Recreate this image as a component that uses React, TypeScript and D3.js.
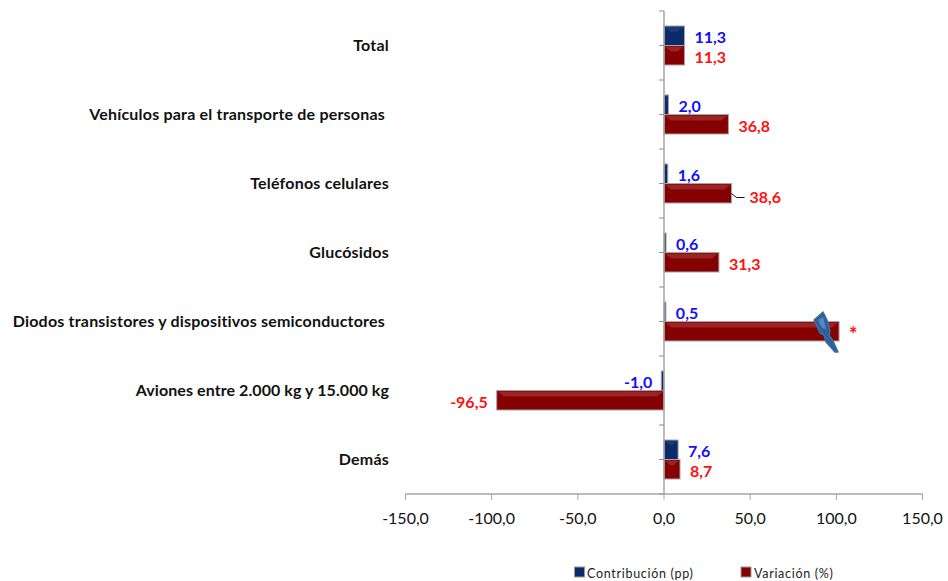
import React from "react";
import * as d3 from "d3";

const categories = [
  "Total",
  "Vehículos para el transporte de personas",
  "Teléfonos celulares",
  "Glucósidos",
  "Diodos transistores y dispositivos semiconductores",
  "Aviones entre 2.000 kg y 15.000 kg",
  "Demás",
];
const contribucion = [11.3, 2.0, 1.6, 0.6, 0.5, -1.0, 7.6];
const variacion = [11.3, 36.8, 38.6, 31.3, 101, -96.5, 8.7];
const variacionLabels = ["11,3", "36,8", "38,6", "31,3", "*", "-96,5", "8,7"];
const xTicks = [-150, -100, -50, 0, 50, 100, 150];
const seriesNames = ["Contribución (pp)", "Variación (%)"];

const W = 948;
const H = 581;
const FONT = "Lato, 'Open Sans', sans-serif";
const fmt = (v: number) => v.toFixed(1).replace(".", ",");

function Bar({ x, y, w, h, fill, light }: { x: number; y: number; w: number; h: number; fill: string; light: string }) {
  const inset = Math.min(6, w / 2);
  return (
    <g>
      <rect x={x} y={y} width={w} height={h} fill={fill} stroke="#a9a3a3" strokeWidth={1} />
      {w > 3 && (
        <path
          d={`M${x + 1},${y + 1}H${x + w - 1}L${x + w - 1 - inset},${y + 6}H${x + 1 + inset}Z`}
          fill={light}
          opacity={0.6}
        />
      )}
    </g>
  );
}

export default function App() {
  const x = d3.scaleLinear().domain([-150, 150]).range([405.5, 922.5]);
  const y = d3.scaleBand<string>().domain(categories).range([11, 494]);
  const bh = 19.5;
  const axisColor = "#a6a6a6";
  const x0 = x(0);

  const yTicks: number[] = [];
  categories.forEach((c) => {
    yTicks.push(y(c)!, y(c)! + y.bandwidth() / 2);
  });
  yTicks.push(494);

  return (
    <svg
      width={W}
      height={H}
      viewBox={`0 0 ${W} ${H}`}
      style={{ position: "absolute", left: 0, top: 0, display: "block", background: "#fff" }}
      fontFamily={FONT}
    >
      {categories.map((c, i) => {
        const mid = y(c)! + y.bandwidth() / 2;
        const trail = i === 1 || i === 4 ? 385 : 389;
        const vB = contribucion[i];
        const vR = variacion[i];
        const bx = Math.min(x(vB), x0);
        const rx = Math.min(x(vR), x0);
        const bw = Math.abs(x(vB) - x0) + 1;
        const rw = Math.abs(x(vR) - x0) + 1;
        const leader = i === 2;
        const bEnd = x(vB);
        const rEnd = x(vR);
        const isStar = variacionLabels[i] === "*";
        return (
          <g key={c}>
            <text x={trail} y={mid - 0.5} dy="0.35em" textAnchor="end" fontSize={16} letterSpacing={i === 5 ? 0.08 : 0.2} fontWeight={700} fill="#111">
              {c}
            </text>
            <Bar x={vB < 0 ? bx - 1 : bx} y={mid - bh} w={bw} h={bh} fill="#0a2a6b" light="#24457f" />
            <Bar x={vR < 0 ? rx - 1 : rx} y={mid} w={rw} h={bh} fill="#850000" light="#a83a3a" />
            <text
              x={vB < 0 ? bEnd - 10 : bEnd + 11}
              y={mid - 8}
              dy="0.35em"
              textAnchor={vB < 0 ? "end" : "start"}
              fontSize={16}
              fontWeight={700}
              fill="#0f0fff"
            >
              {fmt(vB)}
            </text>
            <text
              x={vR < 0 ? rEnd - 10 : rEnd + (leader ? 19 : 11)}
              y={mid + (leader ? 14 : isStar ? 13 : 12)}
              dy="0.35em"
              textAnchor={vR < 0 ? "end" : "start"}
              fontSize={isStar ? 20 : 16}
              fontWeight={700}
              fill="#ff1010"
            >
              {variacionLabels[i]}
            </text>
            {leader && (
              <path
                d={`M${rEnd + 1},${mid + 10}L${rEnd + 6},${mid + 14}H${rEnd + 14}`}
                fill="none"
                stroke="#111"
                strokeWidth={1}
              />
            )}
          </g>
        );
      })}

      {/* lightning mark on the truncated bar */}
      <path
        d="M814,320L823,312L827,320L830,331L829,335L833,341L838,352L835,352L826,342L824,335L820,333Z"
        fill="#2f6198"
        stroke="#3d6da3"
        strokeWidth={1.5}
        strokeLinejoin="round"
      />
      <path d="M818,320L823,317L826,329L822,328Z" fill="#5288c4" />

      {/* y axis */}
      <line x1={x0} x2={x0} y1={11} y2={494} stroke={axisColor} strokeWidth={1.5} />
      {yTicks.map((t) => (
        <line key={t} x1={x0 - 5} x2={x0} y1={t} y2={t} stroke="#8f8f8f" strokeWidth={1} />
      ))}

      {/* x axis */}
      <line x1={x(-150)} x2={x(150)} y1={494} y2={494} stroke={axisColor} strokeWidth={1.5} />
      {xTicks.map((t) => (
        <g key={t}>
          <line x1={x(t)} x2={x(t)} y1={494} y2={500} stroke={axisColor} strokeWidth={1} />
          <text x={x(t)} y={518} dy="0.35em" textAnchor="middle" fontSize={16} fill="#111">
            {fmt(t)}
          </text>
        </g>
      ))}

      {/* legend */}
      <rect x={574.5} y={567} width={10} height={10} fill="#0a2a6b" stroke="#999" />
      <text x={587} y={573.5} dy="0.35em" fontSize={12.5} letterSpacing={0.7} fill="#222">
        {seriesNames[0]}
      </text>
      <rect x={741} y={567} width={10} height={10} fill="#850000" stroke="#999" />
      <text x={754} y={573.5} dy="0.35em" fontSize={12.5} letterSpacing={0.7} fill="#222">
        {seriesNames[1]}
      </text>
    </svg>
  );
}
